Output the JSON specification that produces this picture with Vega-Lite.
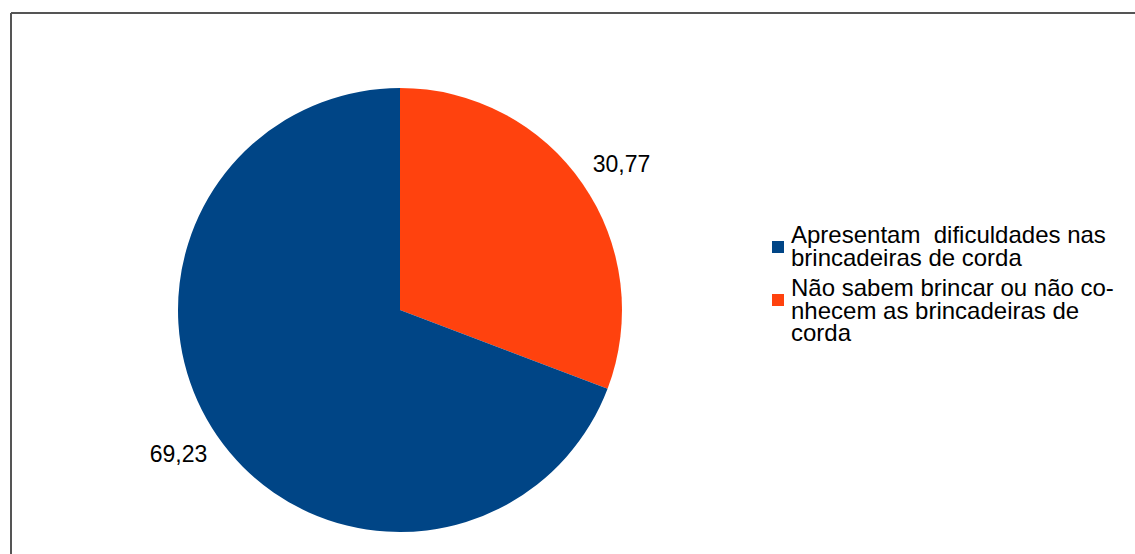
{
  "$schema": "https://vega.github.io/schema/vega-lite/v6.json",
  "padding": {"left": 10, "top": 12, "right": 0, "bottom": 0},
  "background": "white",
  "spacing": 0,
  "bounds": "flush",
  "data": {
    "values": [
      {"categoria": "Não sabem brincar ou não conhecem as brincadeiras de corda", "valor": 30.77, "rotulo": "30,77", "ordem": 1},
      {"categoria": "Apresentam  dificuldades nas brincadeiras de corda", "valor": 69.23, "rotulo": "69,23", "ordem": 2}
    ]
  },
  "hconcat": [
    {
      "width": 778,
      "height": 594,
      "layer": [
        {
          "data": {"values": [{"quadro": "moldura"}]},
          "mark": {"type": "rect", "fill": null, "fillOpacity": 0, "stroke": "#555555", "strokeWidth": 2, "strokeDash": [778, 594, 1372, 0]},
          "encoding": {}
        },
        {
          "mark": {"type": "arc", "outerRadius": 222, "strokeWidth": 0},
          "encoding": {
            "theta": {"field": "valor", "type": "quantitative", "stack": true},
            "order": {"field": "ordem", "type": "quantitative", "sort": "ascending"},
            "color": {
              "field": "categoria",
              "type": "nominal",
              "scale": {
                "domain": ["Apresentam  dificuldades nas brincadeiras de corda", "Não sabem brincar ou não conhecem as brincadeiras de corda"],
                "range": ["#004586", "#ff420e"]
              },
              "legend": {
                "orient": "none",
                "legendX": 755,
                "legendY": 211,
                "title": null,
                "padding": 0,
                "labelFont": "Liberation Sans",
                "labelFontSize": 24,
                "labelColor": "#000000",
                "labelLimit": 0,
                "labelOffset": 1,
                "rowPadding": 6,
                "symbolType": "M-1,0.83H1V2.83H-1Z",
                "symbolSize": 144,
                "symbolStrokeWidth": 0,
                "labelExpr": "datum.label == 'Apresentam  dificuldades nas brincadeiras de corda' ? ['Apresentam\u00a0 dificuldades nas', 'brincadeiras de corda'] : ['Não sabem brincar ou não co-', 'nhecem as brincadeiras de', 'corda']",
                "encode": {
                  "labels": {"update": {"lineHeight": {"value": 22.5}}}
                }
              }
            }
          }
        },
        {
          "mark": {"type": "text", "radius": 265, "thetaOffset": 0.023, "font": "Liberation Sans", "fontSize": 23, "color": "#000000"},
          "encoding": {
            "theta": {"field": "valor", "type": "quantitative", "stack": true},
            "order": {"field": "ordem", "type": "quantitative", "sort": "ascending"},
            "detail": {"field": "categoria", "type": "nominal"},
            "text": {"field": "rotulo", "type": "nominal"}
          }
        }
      ]
    },
    {
      "width": 400,
      "height": 594,
      "data": {"values": [{"quadro": "moldura"}]},
      "mark": {"type": "rect", "fill": null, "fillOpacity": 0, "stroke": "#555555", "strokeWidth": 2, "strokeDash": [400, 10000]},
      "encoding": {}
    }
  ],
  "config": {
    "view": {"stroke": null}
  }
}
